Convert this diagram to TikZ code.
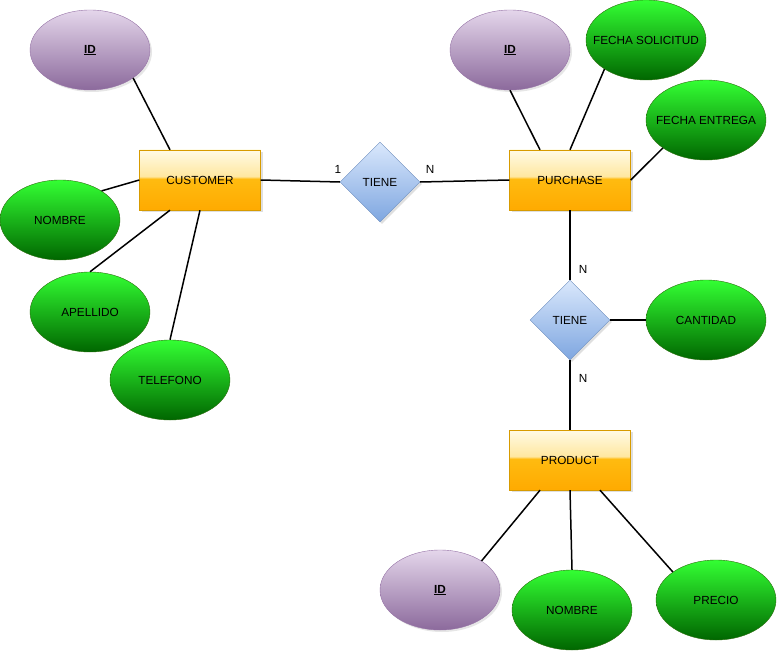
\documentclass[tikz,border=0pt]{standalone}
\usepackage{fontspec}
\setmainfont{Liberation Sans}
\usepackage{xcolor}
\usetikzlibrary{shapes.geometric, shadows, positioning}

\definecolor{keytop}{HTML}{E4D6EB}
\definecolor{keybot}{HTML}{8C6A9C}
\definecolor{keyline}{HTML}{9673A6}
\definecolor{attrtop}{HTML}{33FF33}
\definecolor{attrbot}{HTML}{006600}
\definecolor{attrline}{HTML}{2D6E10}
\definecolor{reltop}{HTML}{DAE8FC}
\definecolor{relbot}{HTML}{7EA6E0}
\definecolor{relline}{HTML}{6C8EBF}
\definecolor{entline}{HTML}{D79B00}
\definecolor{enttop}{HTML}{FFFBE6}
\definecolor{entlight}{HTML}{FFE7A0}
\definecolor{entmid}{HTML}{FFBB10}
\definecolor{entbot}{HTML}{FFAA00}

\pgfdeclareverticalshading{glossy}{100bp}{color(0bp)=(entbot); color(25bp)=(entbot); color(51bp)=(entmid); color(53bp)=(entlight); color(75bp)=(enttop); color(100bp)=(enttop)}

\begin{document}
\begin{tikzpicture}[x=1bp, y=-1bp, font=\fontsize{11.8}{14}\selectfont]
\tikzstyle{entity} = [rectangle, minimum width=121bp, minimum height=60bp, text centered, draw=entline, shading=glossy, drop shadow={shadow xshift=2bp, shadow yshift=-2bp, opacity=0.25}]
\tikzstyle{relation} = [diamond, minimum width=80bp, minimum height=80bp, inner sep=0pt, draw=relline, top color=reltop, bottom color=relbot, drop shadow={shadow xshift=2bp, shadow yshift=-2bp, opacity=0.25}]
\tikzstyle{attr} = [ellipse, minimum width=120bp, minimum height=80bp, inner sep=0pt, draw=attrline, top color=attrtop, bottom color=attrbot]
\tikzstyle{wideattr} = [attr, inner xsep=-12bp]
\tikzstyle{keyattr} = [ellipse, minimum width=120bp, minimum height=80bp, inner sep=0pt, draw=keyline, top color=keytop, bottom color=keybot, drop shadow={shadow xshift=2bp, shadow yshift=-2bp, opacity=0.2}]
\tikzstyle{line} = [line width=1.5bp]
\tikzstyle{card} = [inner sep=1bp]

\useasboundingbox (0,0) rectangle (778,652);

% Customer
\node (cust) [entity] at (200,180) {CUSTOMER};
\node (cid) [keyattr] at (90,50) {\underline{\textbf{ID}}};
\node (cnombre) [attr] at (60,220) {NOMBRE};
\node (capellido) [attr] at (90,312) {APELLIDO};
\node (ctelefono) [attr] at (170,380) {TELEFONO};

% Purchase
\node (tiene1) [relation] at (380,182) {TIENE};
\node (purch) [entity] at (570,180) {PURCHASE};
\node (pid) [keyattr] at (510,50) {\underline{\textbf{ID}}};
\node (fsol) [wideattr] at (646,40) {FECHA SOLICITUD};
\node (fent) [wideattr] at (706,120) {FECHA ENTREGA};

% Product
\node (tiene2) [relation] at (570,320) {TIENE};
\node (cantidad) [attr] at (706,320) {CANTIDAD};
\node (prod) [entity] at (570,460) {PRODUCT};
\node (prid) [keyattr] at (440,590) {\underline{\textbf{ID}}};
\node (prnombre) [attr] at (572,610) {NOMBRE};
\node (precio) [attr] at (716,600) {PRECIO};

% Connections
\draw [line] (cid.-33) -- ([xshift=-30bp]cust.north);
\draw [line] (cnombre.35) -- (cust.west);
\draw [line] ([xshift=-30bp]cust.south) -- (capellido.north);
\draw [line] (cust.south) -- (ctelefono.north);
\draw [line] (cust.east) -- node[card, pos=1, above=7bp, xshift=-2bp] {1} (tiene1.west);
\draw [line] (tiene1.east) -- node[card, pos=0, above=7bp, xshift=10bp] {N} (purch.west);
\draw [line] (pid.south) -- ([xshift=-30bp]purch.north);
\draw [line] (fsol.-145) -- (purch.north);
\draw [line] (fent.-147) -- (purch.east);
\draw [line] (purch.south) -- node[card, pos=0.857, right=7bp] {N} (tiene2.north);
\draw [line] (tiene2.east) -- (cantidad);
\draw [line] (tiene2.south) -- node[card, pos=0.257, right=7bp] {N} (prod.north);
\draw [line] ([xshift=-30bp]prod.south) -- (prid.35);
\draw [line] (prod.south) -- (prnombre.north);
\draw [line] ([xshift=30bp]prod.south) -- (precio.147);

\end{tikzpicture}
\end{document}
